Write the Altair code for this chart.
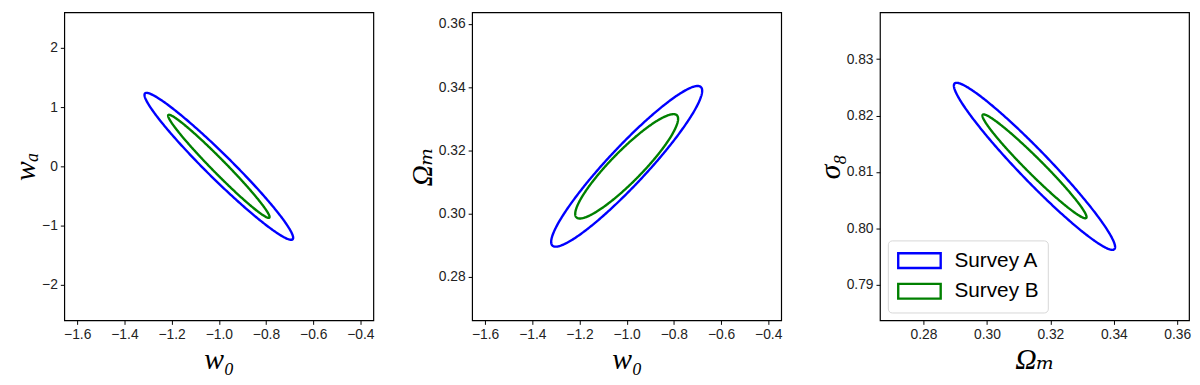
import altair as alt
import numpy as np
import pandas as pd

surveys = ["Survey A", "Survey B"]
colors = ["#0000ff", "#008000"]

# Ellipse parameters: centre, 1-sigma-like half extents, correlation
# Panel 1: w0 (x) vs wa (y)
p1_center = [-1.0, 0.0]
p1_sx = [0.315, 0.215]
p1_sy = [1.24, 0.87]
p1_rho = [-0.972, -0.982]

# Panel 2: w0 (x) vs Omega_m (y)
p2_center = [-1.0, 0.315]
p2_sx = [0.32, 0.218]
p2_sy = [0.0254, 0.0165]
p2_rho = [0.94, 0.91]

# Panel 3: Omega_m (x) vs sigma_8 (y)
p3_center = [0.315, 0.811]
p3_sx = [0.0254, 0.0164]
p3_sy = [0.0148, 0.0092]
p3_rho = [-0.966, -0.976]

# axis ticks and domains
w0_ticks = [-1.6, -1.4, -1.2, -1.0, -0.8, -0.6, -0.4]
wa_ticks = [-2, -1, 0, 1, 2]
om_ticks = [0.28, 0.30, 0.32, 0.34, 0.36]
s8_ticks = [0.79, 0.80, 0.81, 0.82, 0.83]
w0_domain = [-1.655, -0.345]
wa_domain = [-2.6, 2.6]
om_domain = [0.2663, 0.3637]
s8_domain = [0.7837, 0.8383]

t = np.linspace(0, 2 * np.pi, 361)


def contour_frame(center, sx, sy, rho):
    rows = []
    for k, s in enumerate(surveys):
        xs = center[0] + sx[k] * np.cos(t)
        ys = center[1] + sy[k] * (rho[k] * np.cos(t) + np.sqrt(1 - rho[k] ** 2) * np.sin(t))
        rows.append(pd.DataFrame({"x": xs, "y": ys, "survey": s, "i": np.arange(len(t))}))
    return pd.concat(rows, ignore_index=True)


color_scale = alt.Scale(domain=surveys, range=colors)


def panel(df, xdom, ydom, xticks, yticks, xfmt, yfmt, xtitle, ytitle, legend):
    return alt.Chart(df).mark_line(strokeWidth=2.4).encode(
        x=alt.X("x:Q", scale=alt.Scale(domain=xdom, nice=False, zero=False),
                axis=alt.Axis(values=xticks, format=xfmt, title=xtitle)),
        y=alt.Y("y:Q", scale=alt.Scale(domain=ydom, nice=False, zero=False),
                axis=alt.Axis(values=yticks, format=yfmt, title=ytitle)),
        color=alt.Color("survey:N", scale=color_scale, legend=legend),
        order=alt.Order("i:Q"),
    ).properties(width=313, height=312)


legend3 = alt.Legend(
    orient="bottom-left", title=None, offset=8,
    symbolType="M-2.15,-0.75H2.15V0.75H-2.15Z", symbolSize=400,
    symbolStrokeWidth=2.4, symbolFillColor="white", symbolOffset=11.5,
    labelFont="Liberation Sans", labelFontSize=21, labelColor="black",
    labelOffset=24, rowPadding=6, padding=9,
    fillColor="white", strokeColor="#d6d6d6", cornerRadius=4,
)

c1 = panel(contour_frame(p1_center, p1_sx, p1_sy, p1_rho), w0_domain, wa_domain,
           w0_ticks, wa_ticks, ".1f", "d", "w₀", "wₐ", None)
c2 = panel(contour_frame(p2_center, p2_sx, p2_sy, p2_rho), w0_domain, om_domain,
           w0_ticks, om_ticks, ".1f", ".2f", "w₀", "Ωₘ", None)
c3 = panel(contour_frame(p3_center, p3_sx, p3_sy, p3_rho), om_domain, s8_domain,
           om_ticks, s8_ticks, ".2f", ".2f", "Ωₘ", "σ₈", legend3)

chart = alt.hconcat(c1, c2, c3, spacing=32).resolve_legend(color="independent").resolve_scale(
    x="independent", y="independent"
).properties(
    padding={"left": 2, "top": 1, "right": 0, "bottom": 0}
).configure_view(
    stroke="black", strokeWidth=1.2
).configure_axis(
    domain=False, grid=False, ticks=True, tickColor="black", tickSize=4, tickWidth=1,
    labelFont="Liberation Sans", labelFontSize=14, labelColor="#222222", labelPadding=3,
    titleFont="Liberation Serif, DejaVu Serif", titleFontStyle="italic", titleFontWeight="normal",
    titleFontSize=30, titleColor="black",
).configure_axisX(
    titlePadding=4
).configure_axisY(
    titlePadding=1
)

chart.save("out.html", embed_options={"renderer": "svg", "actions": False})
